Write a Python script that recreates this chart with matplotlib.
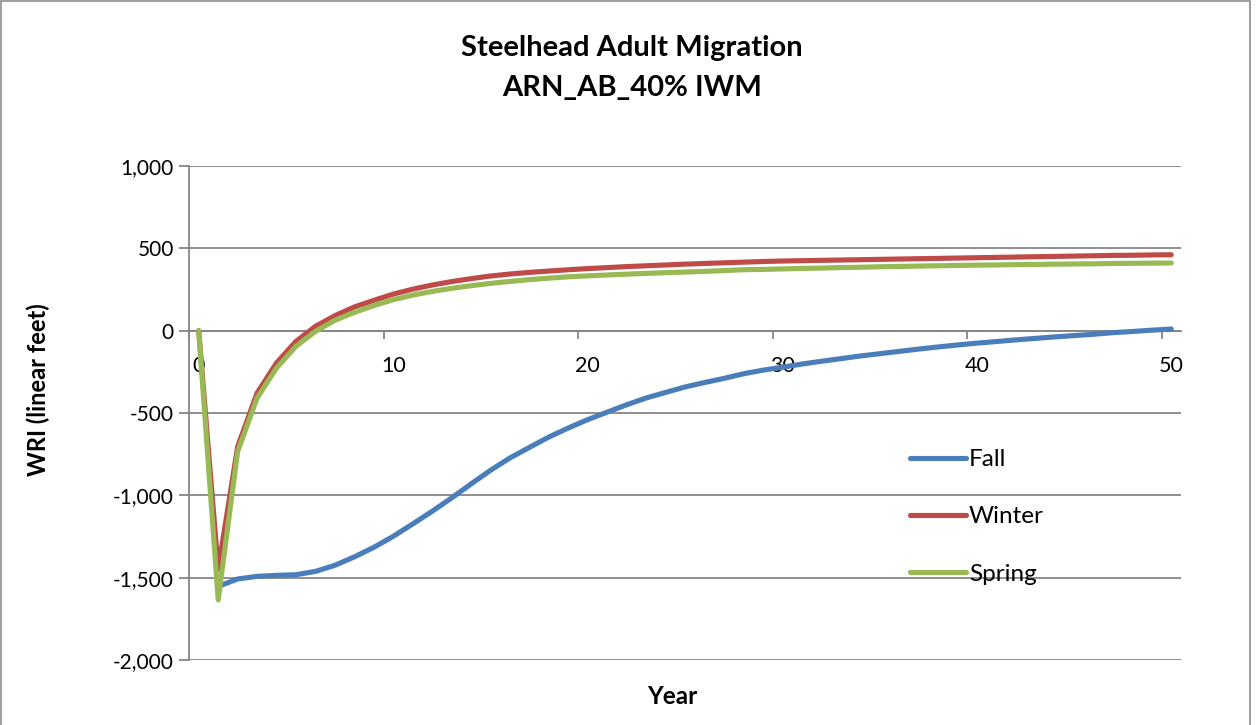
import numpy as np
import matplotlib
matplotlib.use("Agg")
import matplotlib.pyplot as plt
from matplotlib.patches import Rectangle
from matplotlib.ticker import FuncFormatter

years = list(range(51))
fall = [np.nan, -1553, -1508, -1492, -1486, -1482, -1462, -1425, -1374, -1316,
        -1249, -1174, -1097, -1016, -931, -848, -773, -709, -646, -591,
        -540, -495, -450, -409, -375, -342, -315, -290, -262, -240,
        -222, -203, -186, -170, -154, -140, -126, -112, -99, -87,
        -76, -66, -56, -47, -38, -30, -22, -12, -5, 3, 10]
winter = [0, -1450, -705, -379, -196, -65, 26, 91, 144, 184,
          222, 252, 277, 298, 316, 332, 344, 354, 362, 370,
          377, 383, 389, 394, 399, 404, 408, 412, 416, 420,
          423, 425, 427, 429, 431, 433, 435, 437, 439, 441,
          443, 445, 447, 449, 451, 453, 455, 457, 458, 460, 461]
spring = [0, -1635, -735, -409, -227, -95, -4, 63, 111, 152,
          188, 216, 238, 257, 273, 287, 299, 310, 319, 327,
          333, 338, 343, 348, 352, 356, 360, 365, 370, 372,
          375, 378, 380, 383, 385, 388, 390, 392, 394, 396,
          398, 399, 401, 402, 404, 405, 406, 408, 409, 410, 411]
series_names = ["Fall", "Winter", "Spring"]
colors = ["#4A7EBB", "#BE4B48", "#98B954"]
x_labels = [0, 10, 20, 30, 40, 50]
y_ticks = [-2000, -1500, -1000, -500, 0, 500, 1000]

plt.rcParams['font.family'] = ['Lato', 'DejaVu Sans']

W, H = 1258, 725
fig = plt.figure(figsize=(W / 100, H / 100), dpi=100)
ax = fig.add_axes([189 / W, 1 - 660 / H, (1181 - 189) / W, (660 - 166) / H])

grid_c = "#868686"
for name, data, c in zip(series_names, [fall, winter, spring], colors):
    ax.plot(years, data, color=c, lw=3.7, label=name,
            solid_capstyle="round", solid_joinstyle="round", zorder=3)

ax.set_xlim(-0.5, 50.5)
ax.set_ylim(-2000, 1000)
ax.set_yticks(y_ticks)
ax.yaxis.set_major_formatter(FuncFormatter(lambda v, p: f"{int(v):,}"))
ax.grid(axis="y", color=grid_c, lw=1.3, zorder=1)
ax.grid(axis="x", visible=False)

ax.set_xticks(x_labels)
ax.set_xticklabels([str(v) for v in x_labels])
ax.set_xticks([v - 0.5 for v in x_labels], minor=True)
ax.tick_params(axis="x", which="major", length=0, pad=18, labelsize=15.5)
ax.tick_params(axis="x", which="minor", length=6, width=1.3, color=grid_c, direction="out")
ax.tick_params(axis="y", which="major", length=7, width=1.3, color=grid_c,
               direction="out", labelsize=15, pad=4)

for s in ["top", "right"]:
    ax.spines[s].set_visible(False)
ax.spines["left"].set_color(grid_c)
ax.spines["left"].set_linewidth(1.3)
ax.spines["bottom"].set_position(("data", 0))
ax.spines["bottom"].set_color(grid_c)
ax.spines["bottom"].set_linewidth(1.3)

fig.text(38 / W, 1 - 390 / H, "WRI (linear feet)", fontsize=17, fontweight="bold",
         rotation=90, ha="center", va="center")
fig.text(672 / W, 1 - 697 / H, "Year", fontsize=17.5, fontweight="bold",
         ha="center", va="center")
fig.text(632 / W, 1 - 48 / H, "Steelhead Adult Migration", fontsize=21,
         fontweight="bold", ha="center", va="center")
fig.text(632 / W, 1 - 88 / H, "ARN_AB_40% IWM", fontsize=21,
         fontweight="bold", ha="center", va="center")

leg = ax.legend(loc="upper left",
                bbox_to_anchor=((910 - 189) / (1181 - 189), (660 - 449) / (660 - 166)),
                frameon=False, fontsize=17.5, handlelength=2.3, handletextpad=0.12,
                labelspacing=1.5, borderaxespad=0, borderpad=0)

fig.patches.append(Rectangle((1 / W, -0.01), 1249 / W, 1.0 - 1 / H + 0.01,
                             transform=fig.transFigure, fill=False,
                             edgecolor="#8C8C8C", lw=1.2))

fig.savefig("out.png", dpi=100)
